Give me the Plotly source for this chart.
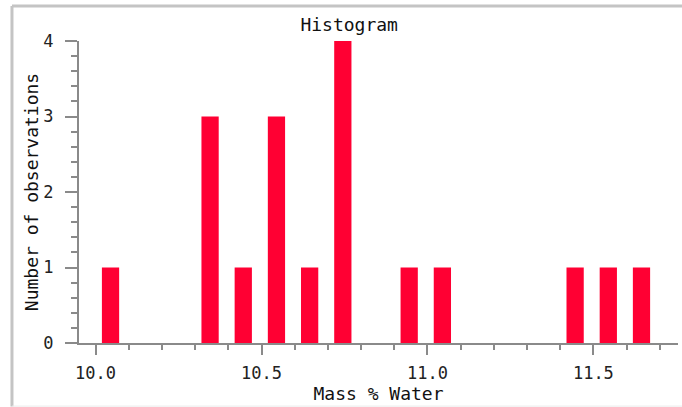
import plotly.graph_objects as go

bin_centers = [10.05, 10.35, 10.45, 10.55, 10.65, 10.75, 10.95, 11.05, 11.45, 11.55, 11.65]
counts = [1, 3, 1, 3, 1, 4, 1, 1, 1, 1, 1]
x_ticks = [10.0, 10.5, 11.0, 11.5]
x_tick_labels = ["10.0", "10.5", "11.0", "11.5"]
y_ticks = [0, 1, 2, 3, 4]

FONT = "DejaVu Sans Mono"
AX = "#8a8a8a"

fig = go.Figure(go.Bar(
    x=bin_centers, y=counts,
    width=0.052, offset=-0.031,
    marker=dict(color="#ff0033", line=dict(width=0)),
))

fig.update_layout(
    width=682, height=407,
    margin=dict(l=79, r=4, t=41, b=64, autoexpand=False),
    paper_bgcolor="white", plot_bgcolor="white",
    showlegend=False,
    font=dict(family=FONT, size=17, color="#222"),
    title=dict(text="Histogram", x=0.512, xanchor="center", y=0.94, yanchor="middle",
               font=dict(family=FONT, size=18, color="#111")),
    xaxis=dict(
        range=[9.95, 11.755], tickvals=x_ticks, ticktext=x_tick_labels, automargin=False,
        showgrid=False, zeroline=False, showline=True, linecolor=AX, linewidth=2,
        ticks="outside", ticklen=10, tickwidth=2, tickcolor=AX,
        minor=dict(dtick=0.1, tick0=10.0, ticks="outside", ticklen=5, tickwidth=1.5, tickcolor=AX, showgrid=False),
        tickfont=dict(family=FONT, size=17, color="#222"),
        ticklabelstandoff=4,
        title=dict(text="Mass % Water", font=dict(family=FONT, size=18, color="#111"), standoff=3),
    ),
    yaxis=dict(
        range=[0, 4], tickvals=y_ticks, automargin=False,
        showgrid=False, zeroline=False, showline=True, linecolor=AX, linewidth=2,
        ticks="outside", ticklen=12, tickwidth=2, tickcolor=AX,
        minor=dict(dtick=0.2, tick0=0, ticks="outside", ticklen=6, tickwidth=1.5, tickcolor=AX, showgrid=False),
        tickfont=dict(family=FONT, size=17, color="#222"),
        ticklabelstandoff=8,
        title=dict(text="Number of observations", font=dict(family=FONT, size=18, color="#111"), standoff=0),
    ),
    shapes=[
        dict(type="line", xref="paper", yref="paper", x0=-0.1119, x1=1.01, y0=1.116, y1=1.116,
             line=dict(color="#c4c4c4", width=3)),
        dict(type="line", xref="paper", yref="paper", x0=-0.1119, x1=-0.1119, y0=1.116, y1=-0.21,
             line=dict(color="#c4c4c4", width=3)),
        dict(type="line", xref="paper", yref="paper", x0=-0.1119, x1=1.01, y0=-0.209, y1=-0.209,
             line=dict(color="#ebebeb", width=1)),
    ],
)

fig.write_html("out.html", config={"displayModeBar": False},
               post_script="document.body.style.margin='0';document.body.style.overflow='hidden';")
